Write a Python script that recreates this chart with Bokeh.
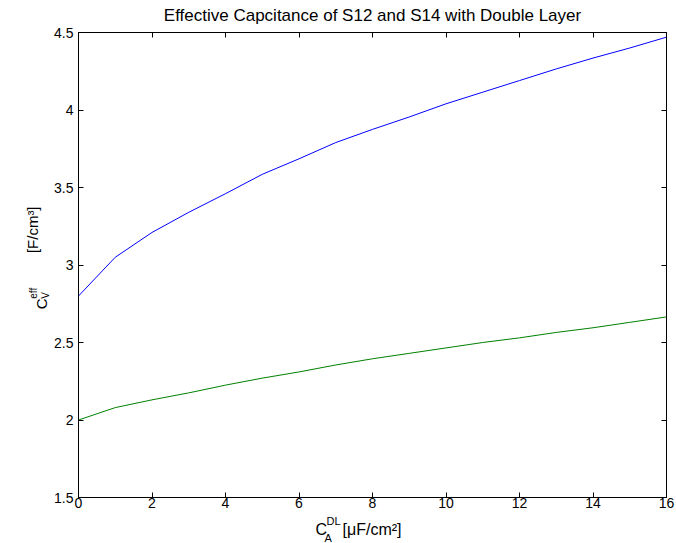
import math
from bokeh.plotting import figure
from bokeh.layouts import column, row
from bokeh.models import Label, LinearAxis, FixedTicker, CustomJSTickFormatter, Range1d
from bokeh.embed import file_html
from bokeh.resources import INLINE

# ---- data ----
x_vals = [0, 1, 2, 3, 4, 5, 6, 7, 8, 9, 10, 11, 12, 13, 14, 15, 16]
s12_vals = [2.80, 3.05, 3.21, 3.34, 3.46, 3.585, 3.685, 3.79, 3.875, 3.955,
            4.04, 4.115, 4.19, 4.265, 4.335, 4.40, 4.47]
s14_vals = [2.00, 2.08, 2.13, 2.175, 2.225, 2.27, 2.31, 2.355, 2.395, 2.43,
            2.465, 2.50, 2.53, 2.565, 2.595, 2.63, 2.665]
x_ticks = [0, 2, 4, 6, 8, 10, 12, 14, 16]
x_tick_labels = ["0", "2", "4", "6", "8", "10", "12", "14", "16"]
y_ticks = [1.5, 2, 2.5, 3, 3.5, 4, 4.5]
y_tick_labels = ["1.5", "2", "2.5", "3", "3.5", "4", "4.5"]
title_text = "Effective Capcitance of S12 and S14 with Double Layer"

FONT = "Liberation Sans"
W, H = 676, 543          # whole page area
TITLE_H = 24             # strip holding the title
YLAB_W = 50              # strip holding the y-axis label
XLAB_H = 30              # strip holding the x-axis label
MAIN_W = W - YLAB_W
MAIN_H = H - TITLE_H - XLAB_H
DESC = 0.25              # baseline correction (fraction of font size)


def text_strip(width, height, x0, y0):
    f = figure(width=width, height=height, output_backend="svg", toolbar_location=None,
               x_range=Range1d(x0, x0 + width), y_range=Range1d(y0 + height, y0),
               x_axis_type=None, y_axis_type=None, min_border=0, title=None)
    f.outline_line_color = None
    f.background_fill_color = "white"
    f.border_fill_color = "white"
    return f


def lab(fig, text, x, y, size, align="left", rotated=False):
    # x, y: page position of the text baseline start
    if rotated:
        x = x - DESC * size
        angle = math.pi / 2
    else:
        y = y - DESC * size
        angle = 0.0
    fig.add_layout(Label(x=x, y=y, text=text, text_font=FONT, text_font_size=f"{size}px",
                         text_color="black", text_align=align,
                         text_baseline="alphabetic", angle=angle))


# ---- main plot ----
p = figure(width=MAIN_W, height=MAIN_H, output_backend="svg", toolbar_location=None,
           x_range=Range1d(x_ticks[0], x_ticks[-1]),
           y_range=Range1d(y_ticks[0], y_ticks[-1]),
           min_border_left=28, min_border_right=10, min_border_top=8,
           min_border_bottom=16, title=None)
p.background_fill_color = "white"
p.border_fill_color = "white"
p.outline_line_color = "black"
p.outline_line_width = 1
p.xgrid.visible = False
p.ygrid.visible = False

bottom_axis = p.below[0]
left_axis = p.left[0]
top_axis = LinearAxis(formatter=CustomJSTickFormatter(code="return ''"))
right_axis = LinearAxis(formatter=CustomJSTickFormatter(code="return ''"))
p.add_layout(top_axis, "above")
p.add_layout(right_axis, "right")

xt = FixedTicker(ticks=x_ticks)
yt = FixedTicker(ticks=y_ticks)
bottom_axis.ticker = xt
top_axis.ticker = xt
left_axis.ticker = yt
right_axis.ticker = yt
bottom_axis.major_label_overrides = {t: s for t, s in zip(x_ticks, x_tick_labels)}
left_axis.major_label_overrides = {t: s for t, s in zip(y_ticks, y_tick_labels)}

for ax in [bottom_axis, left_axis, top_axis, right_axis]:
    ax.major_tick_in = 5
    ax.major_tick_out = 0
    ax.minor_tick_in = 0
    ax.minor_tick_out = 0
    ax.minor_tick_line_color = None
    ax.axis_line_color = "black"
    ax.major_tick_line_color = "black"
    ax.major_label_text_font = FONT
    ax.major_label_text_font_size = "14px"
    ax.major_label_text_color = "black"
bottom_axis.major_label_standoff = 0
left_axis.major_label_standoff = 5
for ax in [top_axis, right_axis]:
    ax.major_label_standoff = 0
    ax.major_label_text_font_size = "0px"

p.line(x_vals, s12_vals, line_color="#0000ff", line_width=1)
p.line(x_vals, s14_vals, line_color="#008000", line_width=1)

# ---- title strip (page coords) ----
t_fig = text_strip(W, TITLE_H, 0, 0)
lab(t_fig, title_text, 372, 19.5, 17, align="center")

# ---- y label strip: C_V^eff   [F/cm³] (rotated) ----
y_fig = text_strip(YLAB_W, MAIN_H, 0, TITLE_H)
lab(y_fig, "C", 45, 315, 15, rotated=True)
lab(y_fig, "V", 47, 304, 10, rotated=True)
lab(y_fig, "eff", 35, 304, 10, rotated=True)
lab(y_fig, "[F/cm\u00b3]", 36, 256, 15, rotated=True)

# ---- x label strip: C_A^DL [µF/cm²] ----
x_fig = text_strip(W, XLAB_H, 0, H - XLAB_H)
lab(x_fig, "C", 315, 533, 16)
lab(x_fig, "DL", 326, 523, 11)
lab(x_fig, "A", 324, 540, 11)
lab(x_fig, "[\u03bcF/cm\u00b2]", 342, 533, 16)

layout = column(t_fig, row(y_fig, p), x_fig)
open("out.html", "w").write(file_html(layout, INLINE))
